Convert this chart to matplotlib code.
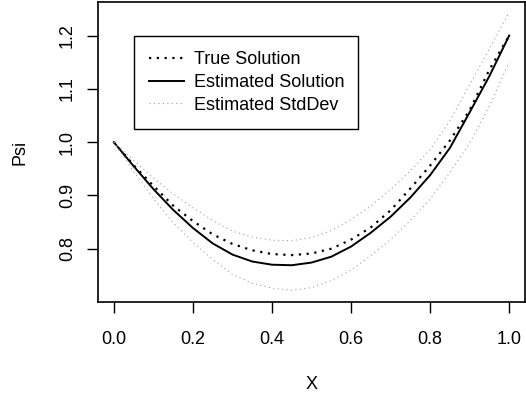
import numpy as np
import matplotlib.pyplot as plt

plt.rcParams['font.family'] = ['Liberation Sans', 'DejaVu Sans']

x = np.linspace(0.0, 1.0, 21)
true_sol = [1.000, 0.957, 0.918, 0.881, 0.852, 0.827, 0.809, 0.797, 0.790, 0.788, 0.791,
            0.800, 0.817, 0.840, 0.872, 0.913, 0.956, 1.003, 1.060, 1.136, 1.200]
est_sol = [1.000, 0.955, 0.912, 0.873, 0.839, 0.810, 0.789, 0.776, 0.770, 0.769, 0.774,
           0.785, 0.804, 0.830, 0.860, 0.896, 0.938, 0.989, 1.056, 1.124, 1.200]
std_upper = [1.000, 0.966, 0.933, 0.903, 0.877, 0.853, 0.833, 0.822, 0.816, 0.815, 0.821,
             0.834, 0.855, 0.880, 0.911, 0.946, 0.986, 1.040, 1.108, 1.175, 1.244]
std_lower = [1.000, 0.945, 0.894, 0.849, 0.812, 0.780, 0.752, 0.735, 0.726, 0.722, 0.727,
             0.740, 0.760, 0.787, 0.817, 0.853, 0.893, 0.943, 0.998, 1.068, 1.150]

xticks = [0.0, 0.2, 0.4, 0.6, 0.8, 1.0]
yticks = [0.8, 0.9, 1.0, 1.1, 1.2]

fig = plt.figure(figsize=(5.26, 3.96), dpi=100)
ax = fig.add_axes([98/526, 1 - 302/396, 427/526, 300/396])

ax.plot(x, true_sol, color='black', lw=1.6, ls=(0, (1, 2.5)), label='True Solution')
ax.plot(x, est_sol, color='black', lw=1.4, label='Estimated Solution')
ax.plot(x, std_upper, color='#a0a0a0', lw=0.8, ls=(0, (1, 3)), label='Estimated StdDev')
ax.plot(x, std_lower, color='#a0a0a0', lw=0.8, ls=(0, (1, 3)))

ax.set_xlim(-0.04, 1.04)
ax.set_ylim(0.70, 1.263)
ax.set_xticks(xticks)
ax.set_xticklabels(['%.1f' % v for v in xticks])
ax.set_yticks(yticks)
ax.set_yticklabels(['%.1f' % v for v in yticks], rotation=90, va='center')
ax.tick_params(direction='out', length=8, width=1, labelsize=13, colors='black')
ax.tick_params(axis='x', pad=13)
ax.tick_params(axis='y', pad=8)
for s in ax.spines.values():
    s.set_linewidth(1.2)

ax.set_xlabel('X', fontsize=13, labelpad=20)
ax.set_ylabel('Psi', fontsize=13, labelpad=22)

leg = ax.legend(loc='upper left', bbox_to_anchor=(0.084, 0.587, 0.525, 0.3), mode='expand',
                borderaxespad=0, fancybox=False, edgecolor='black', framealpha=1,
                fontsize=13, handlelength=1.9, handletextpad=0.6, labelspacing=0.32,
                borderpad=0.85)
leg.get_frame().set_linewidth(1.0)

fig.savefig('out.png', dpi=100)
